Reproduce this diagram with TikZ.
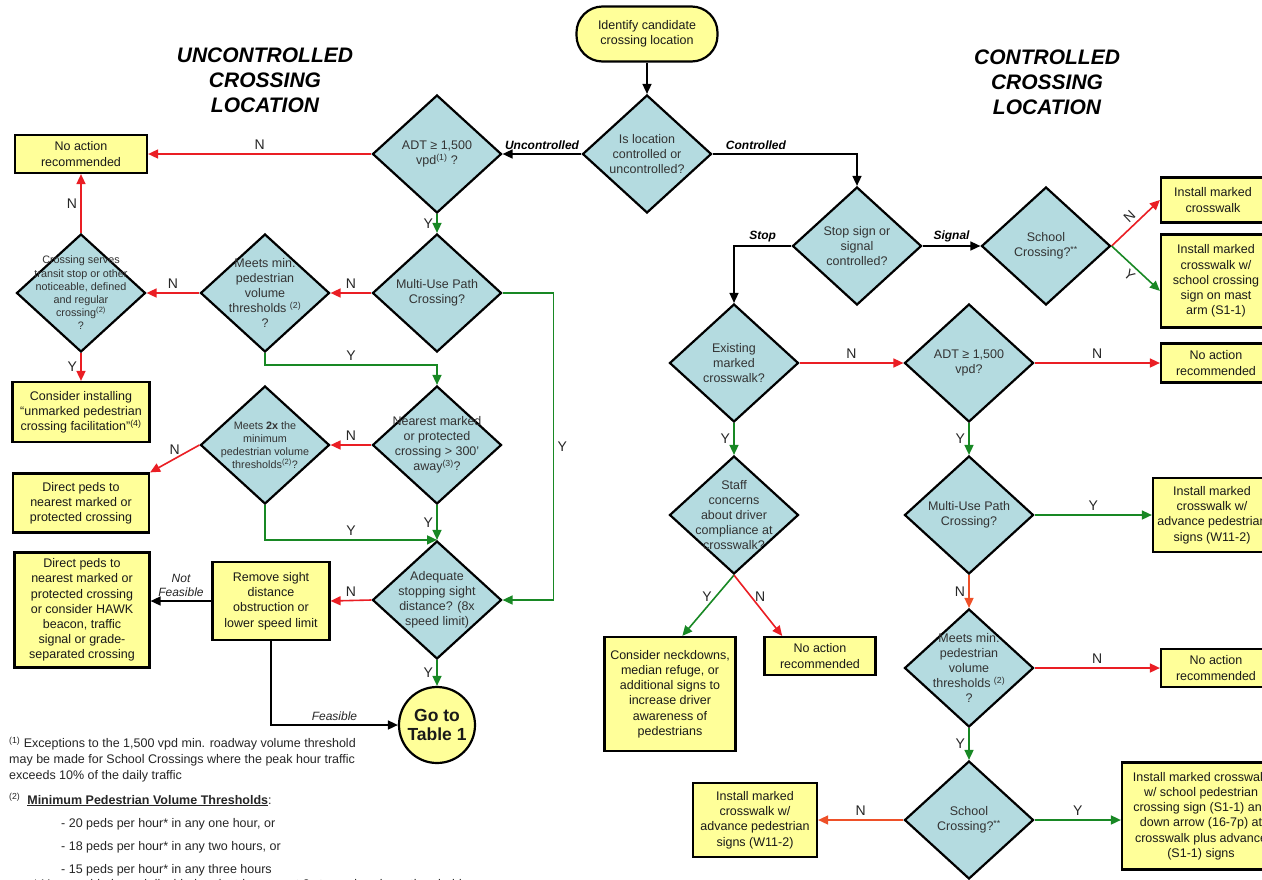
\documentclass[tikz,border=0pt]{standalone}
\usepackage{fontspec}
\setmainfont{Liberation Sans}
\usepackage{tikz}
\usetikzlibrary{shapes}
\usetikzlibrary{arrows.meta}
\RequirePackage{xcolor}
\definecolor{dblue}{RGB}{180,219,224}
\definecolor{byellow}{RGB}{255,255,153}
\definecolor{nred}{RGB}{234,30,36}
\definecolor{norange}{RGB}{238,80,40}
\definecolor{ygreen}{RGB}{24,136,36}

\begin{document}
\begin{tikzpicture}[x=1pt, y=-1pt,
    decision/.style={diamond, draw, fill=dblue, line width=2.2pt, minimum width=129pt, minimum height=118pt, inner sep=0pt},
    dtext/.style={align=center, text=black!80, font=\fontsize{12.5}{15}\selectfont},
    dsmall/.style={dtext, font=\fontsize{10.8}{13.2}\selectfont},
    action/.style={draw, fill=byellow, line width=2.2pt, align=center, inner sep=1pt, text=black!90, font=\fontsize{12.5}{15.2}\selectfont},
    link/.style={line width=1.6pt, -{Triangle[length=10pt,width=9pt]}},
    nlink/.style={link, draw=nred},
    olink/.style={link, draw=norange},
    ylink/.style={link, draw=ygreen},
    yn/.style={text=black!85, font=\fontsize{14}{16}\selectfont},
    way/.style={text=black, font=\fontsize{12}{14}\bfseries\itshape},
    feas/.style={text=black!85, align=center, font=\fontsize{12}{14}\itshape},
    title/.style={align=center, text=black, font=\fontsize{21}{25}\bfseries\itshape},
    note/.style={align=left, inner sep=0pt, text=black!85, font=\fontsize{12.5}{16}\selectfont}]

  \path[use as bounding box, fill=white] (0,0) rectangle (1262,879);
  \clip (0,0) rectangle (1262,879);

  \node[title] (unc) at (265,80) {UNCONTROLLED\\CROSSING\\LOCATION};
  \node[title] (con) at (1047,82) {CONTROLLED\\CROSSING\\LOCATION};

  \foreach \n/\x/\y in {q0/647/154, adt/437/154, multi/437/293, meetsmin/265/293,
      serves/81/293, nearest/437/445, meets2x/265/445, adeq/437/600,
      stop/857/246, school1/1046/246, exist/734/363, adt2/969/363,
      staff/734/515, multi2/969/515, meetsmin2/969/668, school2/969/820}
    \node[decision] (\n) at (\x,\y) {};

  \node[dtext] (q0-t) at (q0) {Is location\\controlled or\\uncontrolled?};
  \node[dtext] (adt-t) at (adt) {ADT ≥ 1,500\\vpd\textsuperscript{(1)} ?};
  \node[dtext] (multi-t) at (multi) {Multi-Use Path\\Crossing?};
  \node[dtext] (meetsmin-t) at (meetsmin) {Meets min.\\pedestrian\\volume\\thresholds \textsuperscript{(2)}\\?};
  \node[dsmall] (serves-t) at (serves) {Crossing serves\\transit stop or other\\noticeable, defined\\and regular\\crossing\textsuperscript{(2)}\\?};
  \node[dtext] (nearest-t) at (nearest) {Nearest marked\\or protected\\crossing > 300'\\away\textsuperscript{(3)}?};
  \node[dsmall] (meets2x-t) at (meets2x) {Meets \textbf{2x} the\\minimum\\pedestrian volume\\thresholds\textsuperscript{(2)}?};
  \node[dtext] (adeq-t) at (adeq) {Adequate\\stopping sight\\distance? (8x\\speed limit)};
  \node[dtext] (stop-t) at (stop) {Stop sign or\\signal\\controlled?};
  \node[dtext] (school1-t) at (school1) {School\\Crossing?\textsuperscript{**}};
  \node[dtext] (exist-t) at (exist) {Existing\\marked\\crosswalk?};
  \node[dtext] (adt2-t) at (adt2) {ADT ≥ 1,500\\vpd?};
  \node[dtext] (staff-t) at (staff) {Staff\\concerns\\about driver\\compliance at\\crosswalk?};
  \node[dtext] (multi2-t) at (multi2) {Multi-Use Path\\Crossing?};
  \node[dtext] (meetsmin2-t) at (meetsmin2) {Meets min.\\pedestrian\\volume\\thresholds \textsuperscript{(2)}\\?};
  \node[dtext] (school2-t) at (school2) {School\\Crossing?\textsuperscript{**}};

  \node[action, rounded corners=26pt, minimum width=141pt, minimum height=55pt] (ident) at (647,34) {Identify candidate\\crossing location};
  \node[action, minimum width=132pt, minimum height=38pt] (na1) at (81,154) {No action\\recommended};
  \node[action, minimum width=137pt, minimum height=60pt] (consider) at (81,412) {Consider installing\\“unmarked pedestrian\\crossing facilitation”\textsuperscript{(4)}};
  \node[action, minimum width=136pt, minimum height=59pt] (dp1) at (81,503) {Direct peds to\\nearest marked or\\protected crossing};
  \node[action, minimum width=135pt, minimum height=115pt] (dp2) at (82,610) {Direct peds to\\nearest marked or\\protected crossing\\or consider HAWK\\beacon, traffic\\signal or grade-\\separated crossing};
  \node[action, minimum width=117pt, minimum height=78pt] (remove) at (271,601) {Remove sight\\distance\\obstruction or\\lower speed limit};
  \node[action, circle, minimum size=76pt, inner sep=0pt, font=\fontsize{17.5}{19}\bfseries] (goto) at (437,725) {Go to\\Table 1};
  \node[action, minimum width=104pt, minimum height=45pt] (im1) at (1213,200) {Install marked\\crosswalk};
  \node[action, minimum width=110pt, minimum height=93pt] (im2) at (1216,281) {Install marked\\crosswalk w/\\school crossing\\sign on mast\\arm (S1-1)};
  \node[action, minimum width=110pt, minimum height=39pt] (na2) at (1216,363) {No action\\recommended};
  \node[action, minimum width=118pt, minimum height=74pt] (iw1) at (1212,515) {Install marked\\crosswalk w/\\advance pedestrian\\signs (W11-2)};
  \node[action, minimum width=131pt, minimum height=114pt] (neck) at (670,694) {Consider neckdowns,\\median refuge, or\\additional signs to\\increase driver\\awareness of\\pedestrians};
  \node[action, minimum width=111pt, minimum height=38pt] (na3) at (820,656) {No action\\recommended};
  \node[action, minimum width=110pt, minimum height=38pt] (na4) at (1216,668) {No action\\recommended};
  \node[action, minimum width=124pt, minimum height=74pt] (iw2) at (755,820) {Install marked\\crosswalk w/\\advance pedestrian\\signs (W11-2)};
  \node[action, minimum width=158pt, minimum height=107pt] (s11) at (1201,816) {Install marked crosswalk\\w/ school pedestrian\\crossing sign (S1-1) and\\down arrow (16-7p) at\\crosswalk plus advance\\(S1-1) signs};

  \draw[link] (ident.south) -- (q0.north);
  \draw[link] (q0.west) -- (adt.east) node[midway, above, way] {Uncontrolled};
  \draw[link] (q0.east) -| (stop.north) node[pos=0.15, above, way] {Controlled};

  \draw[nlink] (adt.west) -- (na1.east) node[midway, above, yn] {N};
  \draw[ylink] (adt.south) -- (multi.north) node[midway, left, yn] {Y};
  \draw[nlink] (multi.west) -- (meetsmin.east) node[midway, above, yn] {N};
  \draw[nlink] (meetsmin.west) -- (serves.east) node[midway, above, yn] {N};
  \draw[nlink] (serves.north) -- (na1.south) node[midway, left, yn] {N};
  \draw[nlink] (serves.south) -- (consider.north) node[midway, left, yn] {Y};
  \draw[ylink] (meetsmin.south) -- ++(0,12) -| (nearest.north) node[pos=0.25, above, yn] {Y};
  \draw[ylink] (multi.east) -- ++(51,0) |- (adeq.east) node[pos=0.25, right, yn] {Y};
  \draw[nlink] (nearest.west) -- (meets2x.east) node[midway, above, yn] {N};
  \draw[nlink] (meets2x.west) -- (dp1.north east) node[midway, above, yn] {N};
  \draw[ylink] (meets2x.south) |- (adeq.north) node[pos=0.75, above, yn] {Y};
  \draw[ylink] (nearest.south) -- (adeq.north) node[midway, left, yn] {Y};
  \draw[nlink] (adeq.west) -- (remove.east) node[midway, above, yn] {N};
  \draw[link] (remove.west) -- (remove.west -| dp2.east) node[midway, above, feas] {Not\\Feasible};
  \draw[ylink] (adeq.south) -- (goto.north) node[midway, left, yn] {Y};
  \draw[link] (remove.south) |- (goto.west) node[pos=0.75, above, feas] {Feasible};

  \draw[link] (stop.west) -| (exist.north) node[pos=0.25, above, way] {Stop};
  \draw[link] (stop.east) -- (school1.west) node[midway, above, way] {Signal};
  \draw[nlink] (school1.east) -- (im1.west) node[midway, above, sloped, yn] {N};
  \draw[ylink] (school1.east) -- (im2.190) node[midway, below, sloped, yn] {Y};
  \draw[nlink] (exist.east) -- (adt2.west) node[midway, above, yn] {N};
  \draw[nlink] (adt2.east) -- (na2.west) node[midway, above, yn] {N};
  \draw[ylink] (exist.south) -- (staff.north) node[midway, left, yn] {Y};
  \draw[ylink] (adt2.south) -- (multi2.north) node[midway, left, yn] {Y};
  \draw[ylink] (staff.south) -- (neck.78) node[pos=0.35, left, yn] {Y};
  \draw[nlink] (staff.south) -- (na3.152) node[pos=0.35, right, yn] {N};
  \draw[ylink] (multi2.east) -- (iw1.west) node[midway, above, yn] {Y};
  \draw[olink] (multi2.south) -- (meetsmin2.north) node[midway, left, yn] {N};
  \draw[nlink] (meetsmin2.east) -- (na4.west) node[midway, above, yn] {N};
  \draw[ylink] (meetsmin2.south) -- (school2.north) node[midway, left, yn] {Y};
  \draw[olink] (school2.west) -- (iw2.east) node[midway, above, yn] {N};
  \draw[ylink] (school2.east) -- (school2.east -| s11.west) node[midway, above, yn] {Y};

  \node[note, anchor=north west] (fn1) at (9,737) {\textsuperscript{(1)} Exceptions to the 1,500 vpd min. roadway volume threshold\\may be made for School Crossings where the peak hour traffic\\exceeds 10\% of the daily traffic};
  \node[note, anchor=base west] (fn2) at (9,804) {\textsuperscript{(2)}\ \ \underline{\textbf{Minimum Pedestrian Volume Thresholds}}:};
  \foreach \n/\h [count=\i] in {20/{one hour, or}, 18/{two hours, or}, 15/{three hours}}
    \node[note, anchor=base west] (thr\i) at (61,804+23*\i) {- \n\ peds per hour* in any \h};
  \node[note, anchor=base west] (star) at (33,888) {* Young, elderly, and disabled pedestrians count 2x towards volume thresholds};
\end{tikzpicture}
\end{document}
